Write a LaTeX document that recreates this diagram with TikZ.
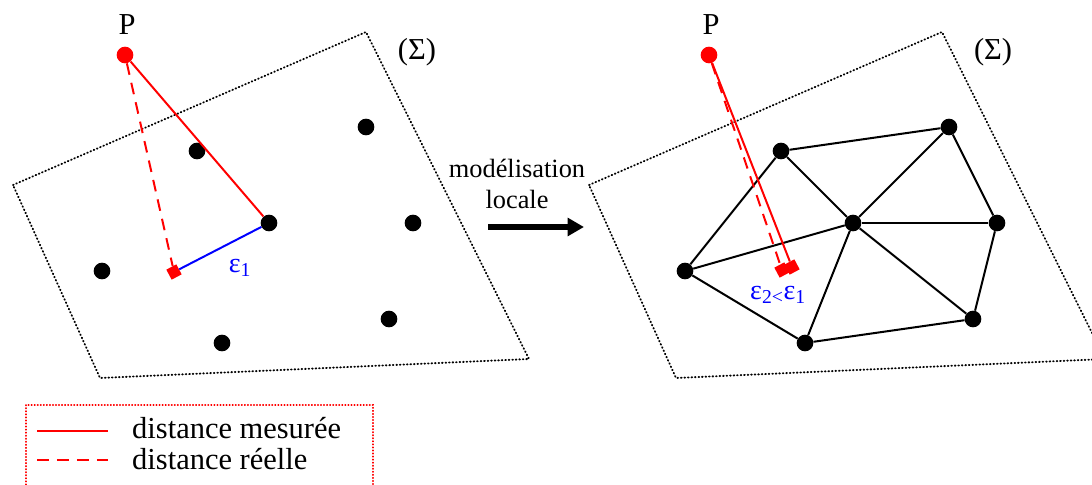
\documentclass[tikz,border=0pt]{standalone}
\usepackage{fontspec}
\setmainfont{Liberation Serif}
\usetikzlibrary{arrows.meta,positioning,calc}
\tikzset{
  pt/.style={circle, fill=black, inner sep=0pt, minimum size=5mm},
  ppt/.style={circle, fill=red, inner sep=0pt, minimum size=5mm},
  foot/.style={rectangle, fill=red, inner sep=0pt, minimum size=3.4mm, rotate=28},
  mesh/.style={line width=1.7pt},
  meas/.style={red, line width=1.7pt},
  real/.style={red, line width=1.7pt, dash pattern=on 10pt off 7pt},
  err/.style={blue, line width=1.7pt},
  surf/.style={line width=1.6pt, line cap=round, dash pattern=on 0.6pt off 2.4pt},
  lbl/.style={font=\fontsize{26}{30}\selectfont},
  eps/.style={blue, font=\fontsize{24}{28}\selectfont},
  legtext/.style={anchor=west, inner sep=0pt, font=\fontsize{26}{28}\selectfont},
  bigarrow/.style={-{Triangle[length=14pt, width=15pt]}, line width=5pt}
}

\begin{document}
\begin{tikzpicture}[x=0.03cm, y=-0.03cm]
\useasboundingbox (0,0) rectangle (1092,485);

% surfaces
\draw[surf] (13,185) -- (366,32) -- (529,359) -- (100,378) -- cycle;
\draw[surf] (589,185) -- (942,32) -- (1105,359) -- (676,378) -- cycle;
\node[lbl] (sigl) at (417,52) {(Σ)};
\node[lbl] (sigr) at (993,52) {(Σ)};

% left: scattered points
\node[pt] (l1) at (366,127) {};
\node[pt] (l2) at (197,151) {};
\node[pt] (l3) at (269,223) {};
\node[pt] (l4) at (413,223) {};
\node[pt] (l5) at (102,271) {};
\node[pt] (l6) at (389,319) {};
\node[pt] (l7) at (222,343) {};
\node[ppt] (pl) at (125,55) {};
\node[lbl] (plab) at (127,25) {P};
\node[foot] (fl) at (174,272) {};

\draw[meas] (pl) -- (l3);
\draw[real] (pl) -- (fl);
\draw[err] (fl) -- (l3);
\node[eps] (e1) at (240,268) {ε\textsubscript{1}};

% arrow
\coordinate (as) at (488,227);
\coordinate (ae) at (584,227);
\draw[bigarrow] (as) -- (ae);
\node[font=\fontsize{22.5}{27}\selectfont, align=center] (mod) at (517,184) {modélisation\\locale};

% right: triangulated points
\node[pt] (r1) at (949,127) {};
\node[pt] (r2) at (781,151) {};
\node[pt] (r3) at (853,223) {};
\node[pt] (r4) at (997,223) {};
\node[pt] (r5) at (685,271) {};
\node[pt] (r6) at (973,319) {};
\node[pt] (r7) at (805,343) {};

\draw[mesh] (r2) -- (r1);
\draw[mesh] (r2) -- (r3);
\draw[mesh] (r2) -- (r5);
\draw[mesh] (r1) -- (r3);
\draw[mesh] (r1) -- (r4);
\draw[mesh] (r3) -- (r4);
\draw[mesh] (r3) -- (r5);
\draw[mesh] (r3) -- (r7);
\draw[mesh] (r3) -- (r6);
\draw[mesh] (r4) -- (r6);
\draw[mesh] (r5) -- (r7);
\draw[mesh] (r7) -- (r6);

\node[ppt] (pr) at (709,55) {};
\node[lbl] (prlab) at (711,25) {P};
\node[foot] (fr1) at (782,270) {};
\node[foot] (fr2) at (792,267) {};
\draw[real] (pr) -- (fr1);
\draw[meas] (pr) -- (fr2);
\node[eps] (e2) at (778,295) {ε\textsubscript{2<}ε\textsubscript{1}};

% legend
\draw[red, line width=1.4pt, line cap=round, dash pattern=on 0.4pt off 2.2pt] (26,405) rectangle (373,495);
\coordinate (m1) at (37,431);
\coordinate (m2) at (108,431);
\coordinate (d1) at (37,460);
\coordinate (d2) at (108,460);
\draw[meas] (m1) -- (m2);
\draw[real] (d1) -- (d2);
\node[legtext] (tm) at (132,428) {distance mesurée};
\node[legtext] (tr) at (132,459) {distance réelle};
\end{tikzpicture}
\end{document}
